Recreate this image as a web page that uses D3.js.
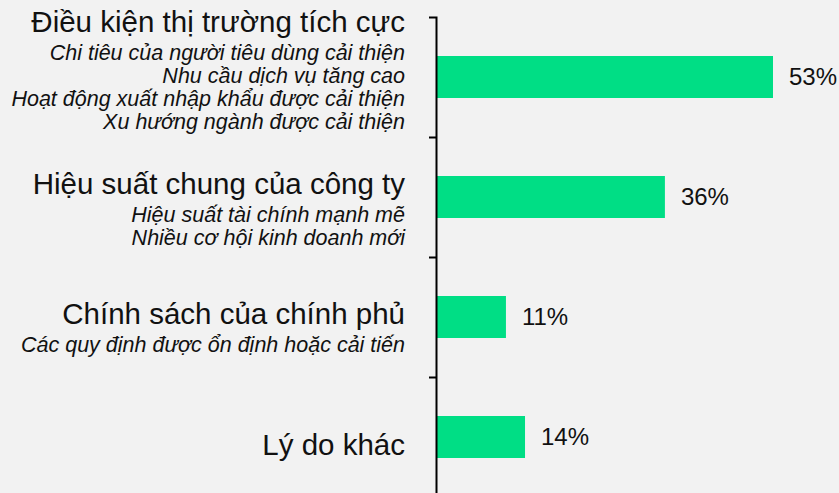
<!DOCTYPE html>
<html>
<head>
<meta charset="utf-8">
<script src="https://cdn.jsdelivr.net/npm/d3@7"></script>
<style>
  html, body { margin: 0; padding: 0; background: #f2f2f2; }
  svg { display: block; font-family: "Liberation Sans", Arial, Helvetica, sans-serif; }
</style>
</head>
<body>
<script>
// Data
const categories = [
  "Điều kiện thị trường tích cực",
  "Hiệu suất chung của công ty",
  "Chính sách của chính phủ",
  "Lý do khác"
];
const subLabels = [
  ["Chi tiêu của người tiêu dùng cải thiện", "Nhu cầu dịch vụ tăng cao",
   "Hoạt động xuất nhập khẩu được cải thiện", "Xu hướng ngành được cải thiện"],
  ["Hiệu suất tài chính mạnh mẽ", "Nhiều cơ hội kinh doanh mới"],
  ["Các quy định được ổn định hoặc cải tiến"],
  []
];
const values = [53, 36, 11, 14];

// Set the dimensions of the canvas
const width = 839, height = 493;
const axisX = 436;
const plotTop = 17, step = 120;

// title baseline offset from band centre (layout only)
const titleShift = [-45, -3, 7, 18];

const svg = d3.select("body")
  .append("svg")
  .attr("width", width)
  .attr("height", height);

svg.append("rect")
  .attr("width", width)
  .attr("height", height)
  .attr("fill", "#f2f2f2");

// Scales
const x = d3.scaleLinear().domain([0, 53]).range([axisX, 773]);
const yEdge = d3.scaleLinear().domain([0, categories.length]).range([plotTop, plotTop + step * categories.length]);
const yBand = d3.scaleBand().domain(d3.range(categories.length))
  .range([plotTop, plotTop + step * categories.length])
  .paddingInner(0.65).paddingOuter(0.325);

// Bars
svg.selectAll("rect.bar")
  .data(values)
  .enter().append("rect")
  .attr("class", "bar")
  .attr("x", x(0))
  .attr("y", (d, i) => yBand(i))
  .attr("width", d => x(d) - x(0))
  .attr("height", yBand.bandwidth())
  .attr("fill", "#00de85");

// Value labels
svg.selectAll("text.val")
  .data(values)
  .enter().append("text")
  .attr("class", "val")
  .attr("x", d => x(d) + 16)
  .attr("y", (d, i) => yBand(i) + yBand.bandwidth() / 2 + 7.5)
  .attr("font-size", 24)
  .attr("fill", "#111")
  .text(d => d + "%");

// Axis
const yAxis = d3.axisLeft(yEdge)
  .tickValues(d3.range(1, categories.length))
  .tickSize(7)
  .tickSizeOuter(7)
  .tickFormat("");

const ax = svg.append("g")
  .attr("transform", "translate(" + axisX + ",0)")
  .call(yAxis);
ax.selectAll("path, line").attr("stroke", "#000").attr("stroke-width", 2);

// Category labels
const labelX = 405;
const groups = svg.selectAll("g.lab")
  .data(categories)
  .enter().append("g")
  .attr("class", "lab");

groups.append("text")
  .attr("x", labelX)
  .attr("y", (d, i) => yBand(i) + yBand.bandwidth() / 2 + titleShift[i])
  .attr("text-anchor", "end")
  .attr("font-size", 29.5)
  .attr("fill", "#111")
  .text(d => d);

groups.each(function (d, i) {
  const base = yBand(i) + yBand.bandwidth() / 2 + titleShift[i];
  d3.select(this).selectAll("text.sub")
    .data(subLabels[i])
    .enter().append("text")
    .attr("class", "sub")
    .attr("x", labelX)
    .attr("y", (s, j) => base + 28 + j * 23)
    .attr("text-anchor", "end")
    .attr("font-size", 21.5)
    .attr("font-style", "italic")
    .attr("fill", "#111")
    .text(s => s);
});
</script>
</body>
</html>
